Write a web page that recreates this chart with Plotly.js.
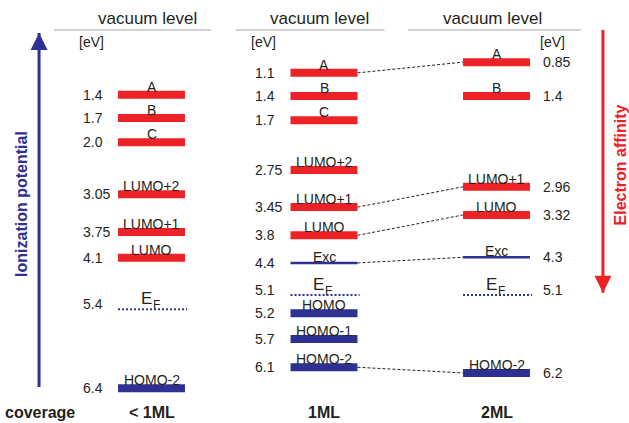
<!DOCTYPE html>
<html><head><meta charset="utf-8">
<script src="https://cdn.plot.ly/plotly-3.0.1.min.js"></script>
<style>html,body{margin:0;padding:0;background:#fff}#chart{width:629px;height:423px}</style>
</head><body><div id="chart"></div>
<script>
// ---------- data ----------
const coverage = ['< 1ML', '1ML', '2ML'];

// level names, energies below vacuum level [eV] and schematic drawn depth (diagram is not to scale)
const namesLow  = ['A', 'B', 'C', 'LUMO+2', 'LUMO+1', 'LUMO', 'EF', 'HOMO-2'];
const energyLow = [1.4, 1.7, 2.0, 3.05, 3.75, 4.1, 5.4, 6.4];
const depthLow  = [1.15, 1.56, 1.99, 2.91, 3.58, 4.04, 4.95, 6.35];

const namesMono  = ['A', 'B', 'C', 'LUMO+2', 'LUMO+1', 'LUMO', 'Exc', 'EF', 'HOMO', 'HOMO-1', 'HOMO-2'];
const energyMono = [1.1, 1.4, 1.7, 2.75, 3.45, 3.8, 4.4, 5.1, 5.2, 5.7, 6.1];
const depthMono  = [0.76, 1.17, 1.60, 2.48, 3.14, 3.64, 4.13, 4.70, 5.02, 5.48, 5.98];

const namesBi  = ['A', 'B', 'LUMO+1', 'LUMO', 'Exc', 'EF', 'HOMO-2'];
const energyBi = [0.85, 1.4, 2.96, 3.32, 4.3, 5.1, 6.2];
const depthBi  = [0.57, 1.17, 2.78, 3.28, 4.03, 4.70, 6.08];

// levels connected between 1ML and 2ML
const linkedLevels = ['A', 'LUMO+1', 'LUMO', 'Exc', 'HOMO-2'];

// ---------- styling ----------
const RED = '#ec2227', BLUE = '#2e3192', TXT = '#231f20', GREY = '#a6a6a6';
const FONT = 'Liberation Sans, Arial, Helvetica, sans-serif';
const HW = 0.194;                       // half bar width (column units)
const valueOffset = [-0.41, -0.41, 0.258];
const eVOffset = [-0.348, -0.35, 0.322];
const vacuumSpan = [[-0.565, 0.345], [-0.513, 0.351], [-0.513, 0.49]];
// decorative arrows (axis units): x, tail depth, tip depth
const ipArrow = {x: -0.652, from: 6.33, to: 0.053, color: BLUE, symbol: 'arrow-up'};
const eaArrow = {x: 2.617, from: 0.0, to: 4.66, color: RED, symbol: 'arrow-down'};

const columns = [
  {names: namesLow, energy: energyLow, depth: depthLow},
  {names: namesMono, energy: energyMono, depth: depthMono},
  {names: namesBi, energy: energyBi, depth: depthBi}
];

function styleOf(n) {
  if (n === 'EF') return 'ef';
  if (n === 'Exc') return 'exc';
  if (n.indexOf('HOMO') === 0) return 'occ';
  return 'unocc';
}
const lineStyles = {
  unocc: {color: RED, width: 8},
  occ: {color: BLUE, width: 8},
  exc: {color: BLUE, width: 2.5},
  ef: {color: BLUE, width: 2, dash: '2px,2px'}
};
function fmt(v) {
  return Math.abs(v * 10 - Math.round(v * 10)) < 1e-9 ? v.toFixed(1) : v.toFixed(2);
}

const traces = [];
const annotations = [];

// vacuum level lines
columns.forEach((col, c) => {
  traces.push({x: [c + vacuumSpan[c][0], c + vacuumSpan[c][1]], y: [0, 0], mode: 'lines',
    line: {color: GREY, width: 1}, hoverinfo: 'skip'});
  annotations.push({x: c - 0.025, y: 0, xref: 'x', yref: 'y', text: 'vacuum level', showarrow: false,
    xanchor: 'center', yanchor: 'bottom', font: {family: FONT, size: 17, color: TXT}});
  annotations.push({x: c + eVOffset[c], y: 0, xref: 'x', yref: 'y', text: '[eV]', showarrow: false,
    xanchor: 'center', yanchor: 'middle', yshift: -12, font: {family: FONT, size: 14, color: TXT}});
  annotations.push({x: c, y: 0.025, xref: 'x', yref: 'paper', text: coverage[c], showarrow: false,
    xanchor: 'center', yanchor: 'middle', font: {family: FONT, size: 16, color: TXT, weight: 'bold'}});
});

// dashed connectors 1ML -> 2ML
linkedLevels.forEach(n => {
  const a = depthMono[namesMono.indexOf(n)];
  const b = depthBi[namesBi.indexOf(n)];
  traces.push({x: [1 + HW, 2 - HW], y: [a, b], mode: 'lines',
    line: {color: '#222222', width: 1, dash: '3px,2px'}, hoverinfo: 'skip'});
});

// energy levels grouped by style
Object.keys(lineStyles).forEach(st => {
  const xs = [], ys = [];
  columns.forEach((col, c) => {
    col.names.forEach((n, i) => {
      if (styleOf(n) !== st) return;
      const ext = st === 'ef' ? 0.012 : 0;
      xs.push(c - HW, c + HW + ext, null);
      ys.push(col.depth[i], col.depth[i], null);
    });
  });
  traces.push({x: xs, y: ys, mode: 'lines', line: lineStyles[st], hoverinfo: 'skip', connectgaps: false});
});

// arrows for ionization potential / electron affinity
[ipArrow, eaArrow].forEach(a => {
  traces.push({x: [a.x, a.x], y: [a.from, a.to], mode: 'lines', line: {color: a.color, width: 3}, hoverinfo: 'skip'});
  traces.push({x: [a.x], y: [a.to], mode: 'markers', hoverinfo: 'skip',
    marker: {symbol: a.symbol, size: 17, color: a.color, line: {width: 0}}});
});

// level names and energy values
columns.forEach((col, c) => {
  col.names.forEach((n, i) => {
    const st = styleOf(n);
    if (st === 'ef') {
      // Fermi level: "E" with subscript "F"
      annotations.push({x: c, y: col.depth[i], xref: 'x', yref: 'y', text: 'E', showarrow: false,
        xanchor: 'right', yanchor: 'bottom', xshift: 2, yshift: -1,
        font: {family: FONT, size: 17, color: TXT}});
      annotations.push({x: c, y: col.depth[i], xref: 'x', yref: 'y', text: 'F', showarrow: false,
        xanchor: 'left', yanchor: 'bottom', xshift: -1, yshift: -5,
        font: {family: FONT, size: 12, color: TXT}});
    } else {
      annotations.push({x: c, y: col.depth[i], xref: 'x', yref: 'y', text: n, showarrow: false,
        xanchor: 'center', yanchor: 'bottom', yshift: st === 'exc' ? -4 : -2,
        font: {family: FONT, size: 14, color: TXT}});
    }
    annotations.push({x: c + valueOffset[c], y: col.depth[i], xref: 'x', yref: 'y', text: fmt(col.energy[i]),
      showarrow: false, xanchor: 'left', yanchor: 'middle', yshift: st === 'ef' ? 5 : 0,
      font: {family: FONT, size: 14, color: TXT}});
  });
});

// side texts
annotations.push({x: 3 / 629, y: 0.025, xref: 'paper', yref: 'paper', text: 'coverage', showarrow: false,
  xanchor: 'left', yanchor: 'middle', font: {family: FONT, size: 16, color: TXT, weight: 'bold'}});
annotations.push({x: 22 / 629, y: 0.518, xref: 'paper', yref: 'paper', text: 'Ionization potential', showarrow: false,
  textangle: -90, xanchor: 'center', yanchor: 'middle', font: {family: FONT, size: 16, color: BLUE, weight: 'bold'}});
annotations.push({x: 620 / 629, y: 0.609, xref: 'paper', yref: 'paper', text: 'Electron affinity', showarrow: false,
  textangle: -90, xanchor: 'center', yanchor: 'middle', font: {family: FONT, size: 16, color: RED, weight: 'bold'}});

const layout = {
  width: 629, height: 423,
  margin: {l: 0, r: 0, t: 0, b: 0, pad: 0},
  paper_bgcolor: '#ffffff', plot_bgcolor: '#ffffff',
  showlegend: false,
  xaxis: {range: [-0.8783, 2.7681], visible: false, fixedrange: true},
  yaxis: {range: [6.968, -0.532], visible: false, fixedrange: true},
  annotations: annotations
};
Plotly.newPlot('chart', traces, layout, {staticPlot: true, displayModeBar: false});
</script>
</body></html>
